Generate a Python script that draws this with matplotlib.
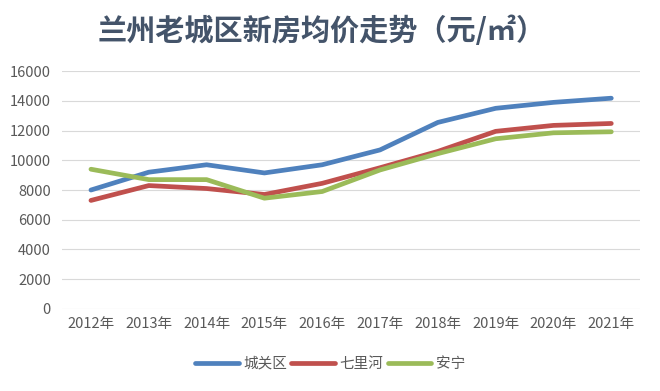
import matplotlib
matplotlib.use("Agg")
import matplotlib.pyplot as plt

plt.rcParams['font.family'] = ['Noto Sans CJK SC', 'DejaVu Sans']

years = ["2012年", "2013年", "2014年", "2015年", "2016年", "2017年", "2018年", "2019年", "2020年", "2021年"]
chengguan = [8000, 9200, 9700, 9150, 9700, 10700, 12550, 13500, 13900, 14180]
qilihe = [7300, 8300, 8100, 7700, 8450, 9500, 10600, 11950, 12350, 12480]
anning = [9400, 8700, 8700, 7450, 7900, 9350, 10450, 11450, 11850, 11920]
series_names = ["城关区", "七里河", "安宁"]
colors = ["#4F81BD", "#C0504D", "#9BBB59"]

fig = plt.figure(figsize=(6.6, 3.91), dpi=100)
ax = fig.add_axes([0.094, 0.21, 0.876, 0.608])

x = list(range(len(years)))
for vals, name, c in zip([chengguan, qilihe, anning], series_names, colors):
    ax.plot(x, vals, color=c, lw=3.4, label=name, solid_capstyle='round', solid_joinstyle='round')

ax.set_xlim(-0.5, len(years) - 0.5)
ax.set_ylim(0, 16000)
ax.set_yticks(range(0, 16001, 2000))
ax.set_xticks(x)
ax.set_xticklabels(years)
ax.grid(axis='y', color='#D9D9D9', lw=0.8)
ax.set_axisbelow(True)
for s in ax.spines.values():
    s.set_visible(False)
ax.tick_params(axis='both', length=0, colors='#595959', labelsize=10.5)
ax.tick_params(axis='y', pad=8)
ax.tick_params(axis='x', pad=6)

fig.text(0.487, 0.922, "兰州老城区新房均价走势（元/㎡）", ha='center', va='center',
         fontsize=21, color='#44546A', fontweight='bold')

leg = fig.legend(loc='center', bbox_to_anchor=(0.5, 0.07), ncol=3, frameon=False,
                 fontsize=10.5, handlelength=3.0, columnspacing=0.3, handletextpad=0.3)
for t in leg.get_texts():
    t.set_color('#595959')

fig.savefig("out.png", dpi=100)
